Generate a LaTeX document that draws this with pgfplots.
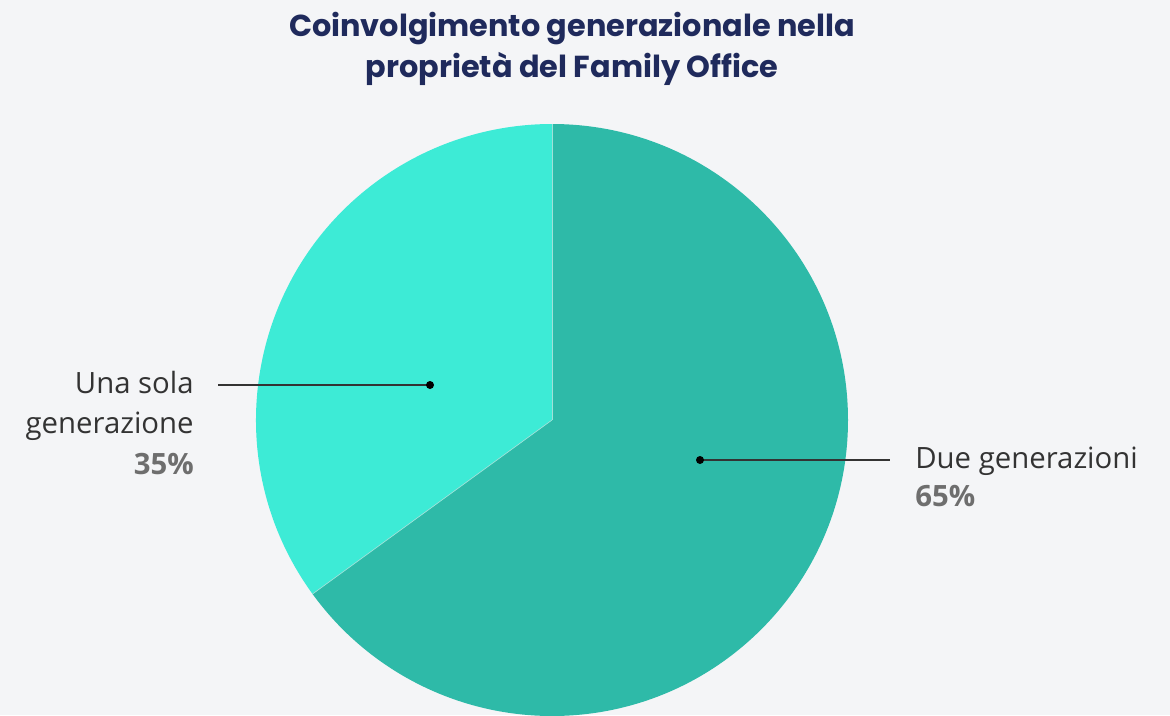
\documentclass[border=0pt]{standalone}
\usepackage{fontspec}
\setmainfont{Open Sans}
\newfontfamily\titlefont{Poppins}
\usepackage{pgfplots}
\pgfplotsset{compat=1.18}
\usepackage{pgfplotstable}

\definecolor{bgcol}{HTML}{F4F5F7}
\definecolor{duecol}{HTML}{2EBAA8}
\definecolor{unacol}{HTML}{3DEBD6}
\definecolor{titlecol}{HTML}{1F2A5C}
\definecolor{pctcol}{HTML}{6E6E6E}
\definecolor{labcol}{HTML}{333333}

% share of family offices, percent
\pgfplotstableread{
name  value
due   65
una   35
}\piedata

\begin{document}
\begin{tikzpicture}
\begin{axis}[
    width=702pt, height=429pt,
    scale only axis,
    xmin=0, xmax=1170,
    ymin=0, ymax=715,
    y dir=reverse,
    hide axis,
    clip=true,
]
\pgfplotstablegetelem{0}{value}\of\piedata \let\valdue\pgfplotsretval
\pgfplotstablegetelem{1}{value}\of\piedata \let\valuna\pgfplotsretval
\pgfmathsetmacro{\angdue}{90-3.6*\valdue}
\def\R{177.6pt}

\fill[bgcol] (axis cs:0,0) rectangle (axis cs:1170,715);

% slices, clockwise from 12 o'clock
\fill[duecol] (axis cs:552,420) -- ++(90:\R) arc[start angle=90, end angle=\angdue, radius=\R] -- cycle;
\fill[unacol] (axis cs:552,420) -- ++(\angdue:\R) arc[start angle=\angdue, end angle=-270, radius=\R] -- cycle;
\draw[white!55!duecol, line width=0.4pt] (axis cs:552,420) -- ++(90:\R);
\draw[white!55!duecol, line width=0.4pt] (axis cs:552,420) -- ++(\angdue:\R);

% leader lines
\draw[black!80, line width=1.5pt] (axis cs:218,385) -- (axis cs:430,385);
\fill[black] (axis cs:430,385) circle[radius=2.4pt];
\draw[black!80, line width=1.5pt] (axis cs:700,460) -- (axis cs:890,460);
\fill[black] (axis cs:700,460) circle[radius=2.4pt];

% labels
\tikzset{lab/.style={inner sep=0pt, font=\fontsize{17.6}{21}\selectfont, text=labcol},
         pct/.style={inner sep=0pt, font=\fontsize{17.6}{21}\selectfont\bfseries, text=pctcol}}
\node[lab, anchor=base east] at (axis cs:194,393) {Una sola};
\node[lab, anchor=base east] at (axis cs:194,433) {generazione};
\node[pct, anchor=base east] at (axis cs:194,474) {\valuna\%};
\node[lab, anchor=base west] at (axis cs:915,468) {Due generazioni};
\node[pct, anchor=base west] at (axis cs:915,506) {\valdue\%};

% title
\node[anchor=base, inner sep=0pt, font=\titlefont\bfseries\fontsize{18.2}{22}\selectfont, text=titlecol] at (axis cs:572,37) {Coinvolgimento generazionale nella};
\node[anchor=base, inner sep=0pt, font=\titlefont\bfseries\fontsize{18.2}{22}\selectfont, text=titlecol] at (axis cs:572,78) {proprietà del Family Office};
\end{axis}
\end{tikzpicture}
\end{document}
